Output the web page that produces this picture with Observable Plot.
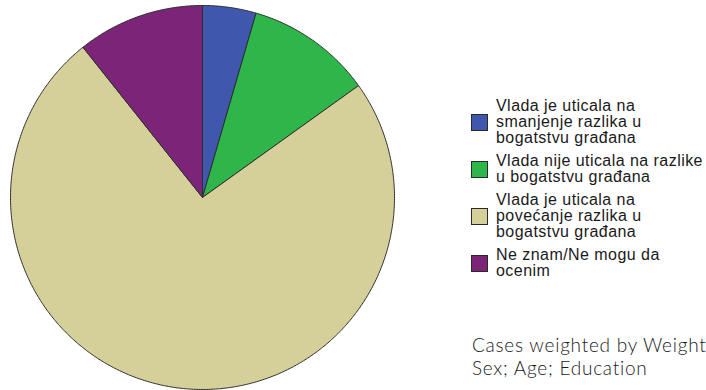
<!DOCTYPE html>
<html>
<head>
<meta charset="utf-8">
<script src="https://cdn.jsdelivr.net/npm/d3@7"></script>
<script src="https://cdn.jsdelivr.net/npm/@observablehq/plot@0.6"></script>
<style>
  html, body { margin: 0; padding: 0; background: #fff; }
  #wrap { position: relative; width: 706px; height: 390px; overflow: hidden; }
  #legend { position: absolute; left: 471px; top: 98px; display: flex; flex-direction: column; gap: 7px;
    font-family: "Liberation Sans", Arial, sans-serif; font-size: 16px; line-height: 16px; letter-spacing: 0.45px; color: #1a1a1a; }
  .item { display: flex; align-items: center; }
  .sw { width: 15px; height: 15px; border: 1px solid #2a2a2a; margin-right: 8px; flex: none; }
  .lab { white-space: nowrap; }
  #caption { position: absolute; left: 472px; top: 333px; font-family: Lato, "Open Sans", sans-serif; font-weight: 300;
    font-size: 19px; letter-spacing: 0.75px; color: #1a1a1a; white-space: nowrap; }
  #caption div { height: 23px; line-height: 23px; }
</style>
</head>
<body>
<div id="wrap">
  <div id="chart"></div>
  <div id="legend"></div>
  <div id="caption"></div>
</div>
<script>
// Data
const categories = [
  "Vlada je uticala na smanjenje razlika u bogatstvu građana",
  "Vlada nije uticala na razlike u bogatstvu građana",
  "Vlada je uticala na povećanje razlika u bogatstvu građana",
  "Ne znam/Ne mogu da ocenim"
];
const legendLines = [
  ["Vlada je uticala na", "smanjenje razlika u", "bogatstvu građana"],
  ["Vlada nije uticala na razlike", "u bogatstvu građana"],
  ["Vlada je uticala na", "povećanje razlika u", "bogatstvu građana"],
  ["Ne znam/Ne mogu da", "ocenim"]
];
const values = [4.5, 10.6, 74.2, 10.7];
const colors = ["#3f58ad", "#2fb64b", "#d5d09a", "#7b2478"];
const captionLines = ["Cases weighted by Weight", "Sex; Age; Education"];

// Build wedge outlines from d3.pie angles
const arcs = d3.pie().sort(null).value(d => d)(values);
const pts = [];
arcs.forEach((a, i) => {
  const cat = categories[i];
  pts.push({cat, x: 0, y: 0});
  const n = Math.max(2, Math.ceil((a.endAngle - a.startAngle) / (Math.PI / 360)));
  for (let k = 0; k <= n; k++) {
    const t = a.startAngle + (a.endAngle - a.startAngle) * k / n;
    pts.push({cat, x: Math.sin(t), y: Math.cos(t)});
  }
  pts.push({cat, x: 0, y: 0});
});

const chart = Plot.plot({
  width: 706,
  height: 390,
  margin: 0,
  x: {domain: [-1, 1], range: [10, 394], axis: null},
  y: {domain: [-1, 1], range: [389, 5], axis: null},
  color: {domain: categories, range: colors},
  marks: [
    Plot.line(pts, {x: "x", y: "y", z: "cat", fill: "cat", stroke: "#2e2e2e", strokeWidth: 1, strokeLinejoin: "round", curve: "linear"})
  ]
});
document.getElementById("chart").appendChild(chart);

const legend = document.getElementById("legend");
categories.forEach((c, i) => {
  const item = document.createElement("div");
  item.className = "item";
  const sw = document.createElement("div");
  sw.className = "sw";
  sw.style.background = colors[i];
  const lab = document.createElement("div");
  lab.className = "lab";
  lab.innerHTML = legendLines[i].join("<br>");
  item.appendChild(sw);
  item.appendChild(lab);
  legend.appendChild(item);
});
const cap = document.getElementById("caption");
captionLines.forEach(t => {
  const d = document.createElement("div");
  d.textContent = t;
  cap.appendChild(d);
});
</script>
</body>
</html>
